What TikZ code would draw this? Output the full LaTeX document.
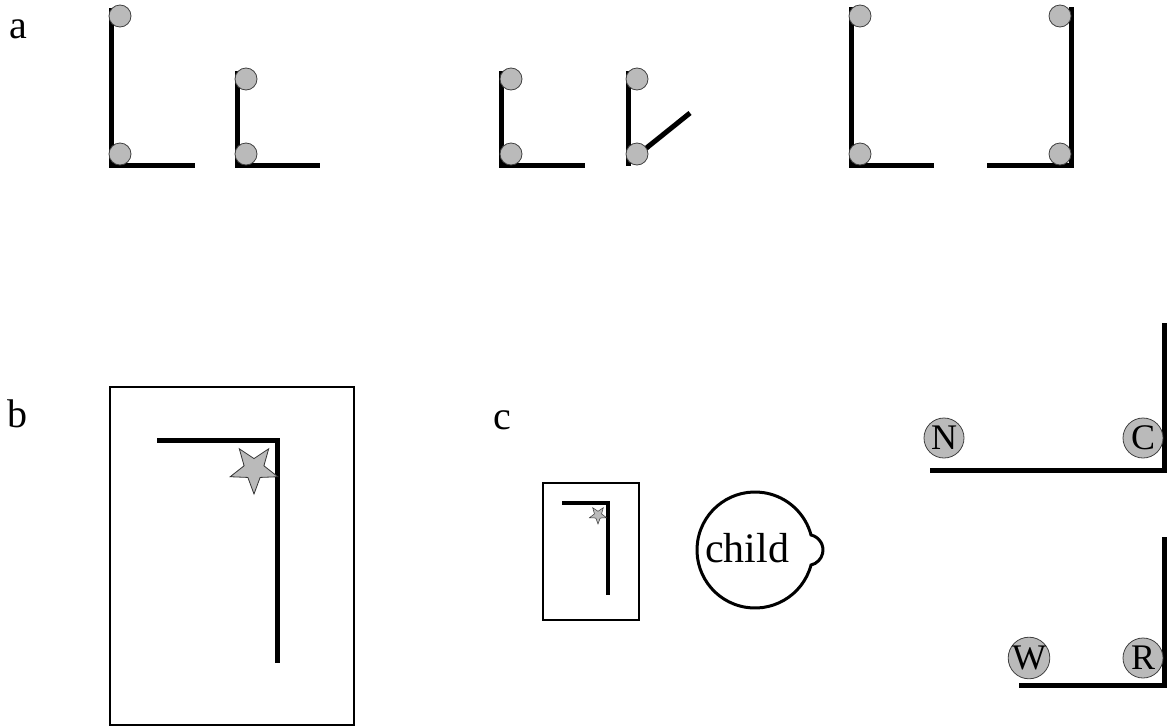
\documentclass[tikz,border=0pt]{standalone}
\usepackage{fontspec}
\setmainfont{Liberation Serif}
\usetikzlibrary{shapes.geometric, calc}
\tikzset{
    bar/.style={line width=5pt},
    ball/.style={circle, draw=black!75, fill=black!27, line width=0.8pt, minimum size=22pt, inner sep=0pt},
    letterball/.style={ball, minimum size=40pt, font=\fontsize{36}{40}\selectfont},
    panel/.style={font=\fontsize{40}{46}\selectfont, anchor=base},
    frame/.style={draw, line width=1.3pt},
    starmark/.style={star, star points=5, star point ratio=2.4, shape border rotate=180, draw=black!80, fill=black!27, inner sep=0pt, line width=0.8pt}
}

\begin{document}
\begin{tikzpicture}[x=1pt, y=-1pt]
        \useasboundingbox (0,0) rectangle (1167,726);
        % panel labels
        \node [panel] (la) at (18.5,38) {a};
        \node [panel] (lb) at (17.5,427) {b};
        \node [panel] (lc) at (502,429) {c};

        % a: six frames
        \draw [bar] (111,8) -- (111,165) -- (195,165);
        \node [ball] (a1t) at (120,16) {};
        \node [ball] (a1b) at (120,154) {};
        \draw [bar] (237,71) -- (237,165) -- (320,165);
        \node [ball] (a2t) at (246,79) {};
        \node [ball] (a2b) at (246,154) {};
        \draw [bar] (501,71) -- (501,165) -- (585,165);
        \node [ball] (a3t) at (511,79) {};
        \node [ball] (a3b) at (511,154) {};
        \draw [bar] (628,71) -- (628,166);
        \draw [bar] (629,162) -- (690,113);
        \node [ball] (a4t) at (637,79) {};
        \node [ball] (a4b) at (637,154) {};
        \draw [bar] (851,7) -- (851,165) -- (934,165);
        \node [ball] (a5t) at (860,16) {};
        \node [ball] (a5b) at (860,154) {};
        \draw [bar] (987,165) -- (1071,165) -- (1071,7);
        \node [ball] (a6t) at (1060,16) {};
        \node [ball] (a6b) at (1060,154) {};

        % b
        \draw [frame] (110,387) rectangle (354,725);
        \draw [bar] (157,440) -- (277,440) -- (277,663);
        \node [starmark, minimum size=50pt] (bstar) at (254,469) {};

        % c
        \draw [frame] (543,483) rectangle (639,620);
        \draw [line width=4pt] (562,503) -- (608,503) -- (608,595);
        \node [starmark, minimum size=18pt, line width=0.5pt] (cstar) at (598,515) {};
        \node [font=\fontsize{42}{48}\selectfont, inner sep=0pt] (child) at (747,548) {child};
        \draw [line width=3pt] ([shift={(15:58)}]755,550) arc [start angle=15, end angle=345, radius=58]
            arc [start angle=-77, end angle=77, radius=15.4] -- cycle;

        % right
        \draw [bar] (930,470) -- (1164.5,470) -- (1164.5,323);
        \node [letterball] (n) at (944,438) {N};
        \node [letterball] (cc) at (1143,438) {C};
        \draw [bar] (1019,685) -- (1164.5,685) -- (1164.5,537);
        \node [letterball] (w) at (1029,658) {W};
        \node [letterball] (r) at (1143,658) {R};
    \end{tikzpicture}
\end{document}
